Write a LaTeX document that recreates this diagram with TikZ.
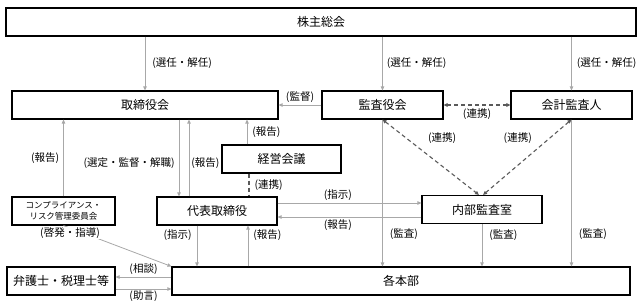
\documentclass[tikz,border=0pt]{standalone}
\usepackage{fontspec}
\setmainfont{Noto Sans CJK JP}
\usetikzlibrary{arrows.meta, calc}
\definecolor{lnkgray}{HTML}{A8A8A8}
\definecolor{dshgray}{HTML}{5A5A5A}

\begin{document}
\begin{tikzpicture}[x=1pt, y=-1pt, >={Triangle[length=4pt, width=3.5pt]},
  orgbox/.style={draw=black, line width=1.1pt, minimum height=28pt, inner sep=0pt,
                 font=\fontsize{12}{14}\selectfont},
  lbl/.style={font=\fontsize{10.5}{12}\selectfont, inner sep=1pt},
  link/.style={draw=lnkgray, line width=0.8pt},
  coop/.style={draw=dshgray, line width=1.1pt, dash pattern=on 4pt off 3pt}]

\useasboundingbox (0,0) rectangle (643,308);

% Boxes
\node[orgbox, minimum width=630pt] (kabu) at (321,22) {株主総会};
\node[orgbox, minimum width=266pt] (tori) at (145,105) {取締役会};
\node[orgbox, minimum width=121pt] (kansa) at (382.5,105) {監査役会};
\node[orgbox, minimum width=121pt] (kaikei) at (571.5,105) {会計監査人};
\node[orgbox, minimum width=119pt] (keiei) at (281.5,159) {経営会議};
\node[orgbox, minimum width=103pt, align=center, font=\fontsize{8.5}{11}\selectfont]
      (comp) at (63.5,211) {コンプライアンス・\\リスク管理委員会};
\node[orgbox, minimum width=120pt] (daihyo) at (217,211) {代表取締役};
\node[orgbox, minimum width=120pt] (naibu) at (482,209.5) {内部監査室};
\node[orgbox, minimum width=108pt] (bengo) at (61,281) {弁護士・税理士等};
\node[orgbox, minimum width=458pt] (kakuhon) at (401,281) {各本部};

% Shareholders meeting
\draw[link, ->] (kabu.south -| tori.north) -- (tori.north)
      node[lbl, midway, right=6pt] {(選任・解任)};
\draw[link, ->] (kabu.south -| kansa.north) -- (kansa.north)
      node[lbl, midway, right=3pt] {(選任・解任)};
\draw[link, ->] (kabu.south -| kaikei.north) -- (kaikei.north)
      node[lbl, midway, right=4pt] {(選任・解任)};

% Board and auditors
\draw[link, ->] (kansa.west) -- (tori.east) node[lbl, midway, above=1pt] {(監督)};
\draw[coop, <->] (kansa.east) -- (kaikei.west) node[lbl, midway, below=2pt] {(連携)};
\draw[coop, <->] (kansa.south) -- ($(naibu.north)+(-3,0)$)
      node[lbl, pos=.25, right=20pt] {(連携)};
\draw[coop, <->] (kaikei.south) -- ($(naibu.north)+(1,0)$)
      node[lbl, pos=.25, left=16pt] {(連携)};

% Board and representative director
\draw[link, ->] (comp.north) -- (comp.north |- tori.south) node[lbl, midway, left=3pt] {(報告)};
\draw[link, ->] (tori.south -| 179,0) -- (daihyo.north -| 179,0)
      node[lbl, midway, left=3pt, yshift=-5pt] {(選定・監督・解職)};
\draw[link, ->] (daihyo.north -| 189,0) -- (tori.south -| 189,0)
      node[lbl, midway, right=1pt, yshift=-5pt] {(報告)};
\draw[link, ->] (keiei.north -| 247,0) -- (tori.south -| 247,0)
      node[lbl, midway, right=4pt] {(報告)};
\draw[coop] (keiei.south -| 249,0) -- (daihyo.north -| 249,0)
      node[lbl, midway, right=4pt] {(連携)};

% Internal audit
\draw[link, ->] (daihyo.east |- 0,203) -- (naibu.west |- 0,203)
      node[lbl, pos=.42, above=1pt] {(指示)};
\draw[link, ->] (naibu.west |- 0,217) -- (daihyo.east |- 0,217)
      node[lbl, pos=.58, below=1pt] {(報告)};

% Divisions
\draw[link, ->] (kansa.south) -- (kakuhon.north -| kansa.south)
      node[lbl, pos=.78, right=6pt] {(監査)};
\draw[link, ->] (naibu.south) -- (kakuhon.north -| naibu.south)
      node[lbl, pos=.25, right=6pt] {(監査)};
\draw[link, ->] (kaikei.south) -- (kakuhon.north -| kaikei.south)
      node[lbl, pos=.78, right=6pt] {(監査)};
\draw[link, ->] (daihyo.south -| 197,0) -- (kakuhon.north -| 197,0)
      node[lbl, pos=.24, left=4pt] {(指示)};
\draw[link, ->] (kakuhon.north -| 248,0) -- (daihyo.south -| 248,0)
      node[lbl, pos=.76, right=4pt] {(報告)};
\draw[link, ->] (comp.south) -- (kakuhon.north west);
\node[lbl, fill=white] (keihatsu) at (70,233) {(啓発・指導)};

% Advisors
\draw[link, ->] (kakuhon.west |- 0,277) -- (bengo.east |- 0,277)
      node[lbl, midway, above=1pt] {(相談)};
\draw[link, ->] (bengo.east |- 0,289) -- (kakuhon.west |- 0,289)
      node[lbl, midway, below=0pt] {(助言)};

\end{tikzpicture}
\end{document}
